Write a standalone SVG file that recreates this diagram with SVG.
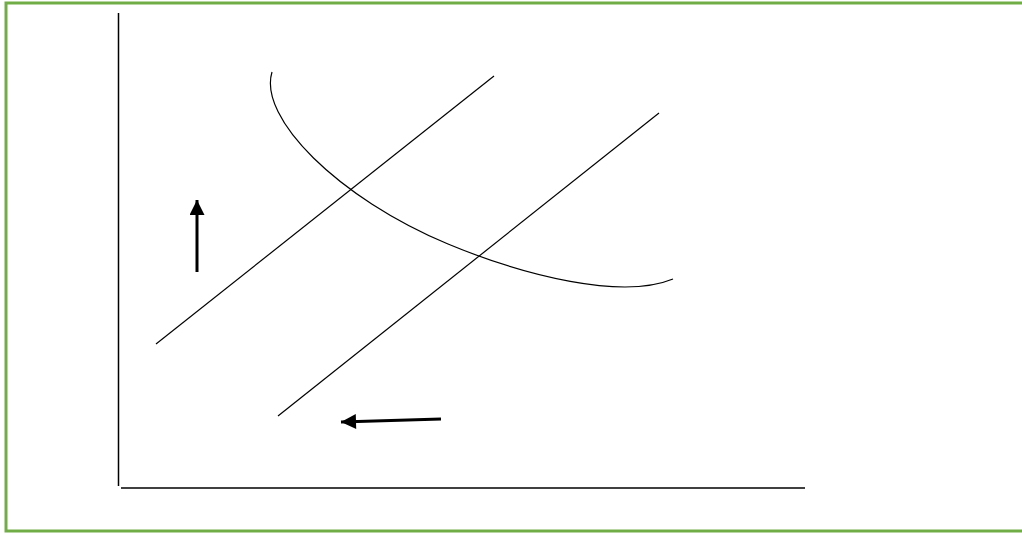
<svg xmlns="http://www.w3.org/2000/svg" width="1022" height="534" viewBox="0 0 1022 534">
<defs>
<style>
.ln{fill:none;stroke:#000;stroke-width:1.2}
.ax{fill:none;stroke:#000;stroke-width:1.5}
.ar{fill:none;stroke:#000;stroke-width:3}
</style>
<marker id="ah" viewBox="0 0 10 10" refX="10" refY="5" markerWidth="5.5" markerHeight="5" orient="auto" markerUnits="strokeWidth">
<path d="M0,0 L10,5 L0,10 z" fill="#000"/>
</marker>
</defs>
<rect width="1022" height="534" fill="#fff"/>
<path d="M1030,3 H6 V531 H1030" fill="none" stroke="#70ad47" stroke-width="3"/>
<g id="axes">
<line class="ax" x1="118.5" y1="13" x2="118.5" y2="486"/>
<line class="ax" x1="121" y1="488" x2="805" y2="488"/>
</g>
<g id="curves">
<line class="ln" x1="156" y1="344" x2="494" y2="76"/>
<line class="ln" x1="278" y1="416" x2="659" y2="113"/>
<path class="ln" d="M272,72 C258,118 338,198 448,244 C525,276 622,300 673,279"/>
</g>
<g id="connectors">
<line class="ar" x1="197" y1="272" x2="197" y2="200" marker-end="url(#ah)"/>
<line class="ar" x1="441" y1="419" x2="341" y2="422" marker-end="url(#ah)"/>
</g>
</svg>
